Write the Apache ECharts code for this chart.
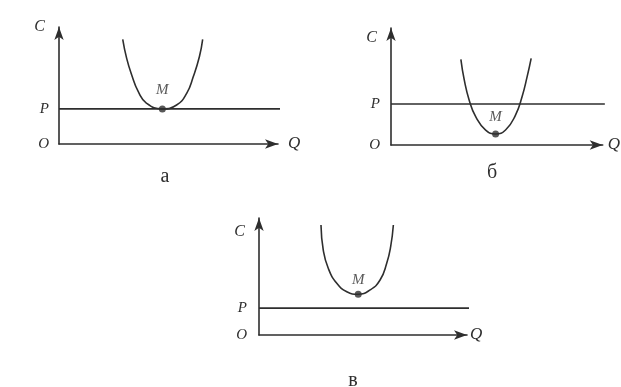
<!DOCTYPE html>
<html>
<head>
    <meta charset="utf-8">
    <title>ECharts</title>
    <script src="https://cdn.jsdelivr.net/npm/echarts@6/dist/echarts.min.js"></script>
</head>
<body style="margin:0;background:#fff;">
    <div id="container" style="width:621px;height:387px;"></div>
    <script type="text/javascript">
        // подписи трёх случаев
        var panels = ['а', 'б', 'в'];
        // уровень цены P на каждом графике
        var pLevel = [3.0, 3.5, 2.3];
        // до куда тянется линия P по оси Q
        var pEnd = 10.1;
        // кривая средних издержек (точки)
        var curveA = [[2.91, 8.95], [3.09, 7.32], [3.32, 5.90], [3.62, 4.47], [4.00, 3.48], [4.72, 3.0],
                      [5.37, 3.33], [5.83, 4.33], [6.13, 5.75], [6.41, 7.46], [6.56, 8.95]];
        var curveB = [[3.30, 7.32], [3.46, 5.56], [3.69, 3.85], [4.00, 2.42], [4.47, 1.28], [4.94, 0.94],
                      [5.41, 1.28], [5.88, 2.56], [6.19, 4.13], [6.43, 5.84], [6.62, 7.41]];
        var curveC = [[2.98, 9.40], [3.09, 7.26], [3.33, 5.70], [3.74, 4.42], [4.22, 3.70], [4.77, 3.48],
                      [5.34, 3.85], [5.82, 4.70], [6.14, 6.13], [6.33, 7.55], [6.46, 9.40]];
        var curves = [curveA, curveB, curveC];
        // точка минимума M
        var minPoints = [[4.72, 3.0], [4.94, 0.94], [4.77, 3.48]];

        var ink = '#2e2e2e';
        var serif = 'Liberation Serif';

        // расположение графиков на листе
        var grids = [
            {left: 59, top: 27, width: 219, height: 117},
            {left: 391, top: 28, width: 214, height: 117},
            {left: 259, top: 218, width: 208, height: 117}
        ];
        var cGap = [0, -10, -14];
        var qGap = [10, 5, 3];
        var qDrop = [18, 4, 4];
        var labelMargin = [10, 11, 12];
        var mDist = [8, 6, 3];
        var captions = [[165, 177], [492, 173], [353, 381]];

        var myChart = echarts.init(document.getElementById('container'));

        var axisLine = {
            show: true,
            symbol: ['none', 'arrow'],
            symbolSize: [7, 13],
            symbolOffset: [0, 0],
            lineStyle: {color: ink, width: 1.6}
        };

        var xAxes = [], yAxes = [], series = [], graphics = [];
        panels.forEach(function (name, i) {
            xAxes.push({
                gridIndex: i, type: 'value', min: 0, max: 10,
                axisLine: axisLine, axisTick: {show: false}, axisLabel: {show: false},
                splitLine: {show: false},
                name: 'Q', nameLocation: 'end', nameGap: qGap[i],
                nameTextStyle: {fontFamily: serif, fontStyle: 'italic', fontSize: 17, color: ink,
                    align: 'left', verticalAlign: 'middle', padding: [qDrop[i], 0, 0, 0]}
            });
            yAxes.push({
                gridIndex: i, type: 'value', min: 0, max: 10,
                axisLine: axisLine, axisTick: {show: false}, splitLine: {show: false},
                axisLabel: {
                    show: true, customValues: [0, pLevel[i]], margin: labelMargin[i],
                    fontFamily: serif, fontStyle: 'italic', fontSize: 15, color: ink,
                    formatter: function (v) { return v === 0 ? 'O' : 'P'; }
                },
                name: 'C', nameLocation: 'end', nameGap: cGap[i],
                nameTextStyle: {fontFamily: serif, fontStyle: 'italic', fontSize: 16, color: ink,
                    align: 'right', verticalAlign: 'middle', padding: [0, 14, 0, 0]}
            });
            // линия цены
            series.push({
                type: 'line', xAxisIndex: i, yAxisIndex: i, clip: false,
                data: [[0, pLevel[i]], [pEnd, pLevel[i]]],
                symbol: 'none', lineStyle: {color: ink, width: 1.6}, silent: true
            });
            // U-образная кривая
            series.push({
                type: 'line', xAxisIndex: i, yAxisIndex: i, smooth: 0.5,
                data: curves[i], symbol: 'none',
                lineStyle: {color: ink, width: 1.6}, silent: true
            });
            series.push({
                type: 'scatter', xAxisIndex: i, yAxisIndex: i,
                data: [minPoints[i]], symbolSize: 7,
                itemStyle: {color: ink},
                label: {show: true, position: 'top', distance: mDist[i], formatter: 'M',
                    fontFamily: serif, fontStyle: 'italic', fontSize: 15, color: ink}
            });
            graphics.push({
                type: 'text', x: captions[i][0], y: captions[i][1],
                style: {text: name, font: '20px "Liberation Serif"', fill: ink,
                    textAlign: 'center', textVerticalAlign: 'middle'}
            });
        });

        var option = {
            animation: false,
            backgroundColor: '#fff',
            grid: grids,
            xAxis: xAxes,
            yAxis: yAxes,
            series: series,
            graphic: graphics
        };
        myChart.setOption(option);
    </script>
</body>
</html>
